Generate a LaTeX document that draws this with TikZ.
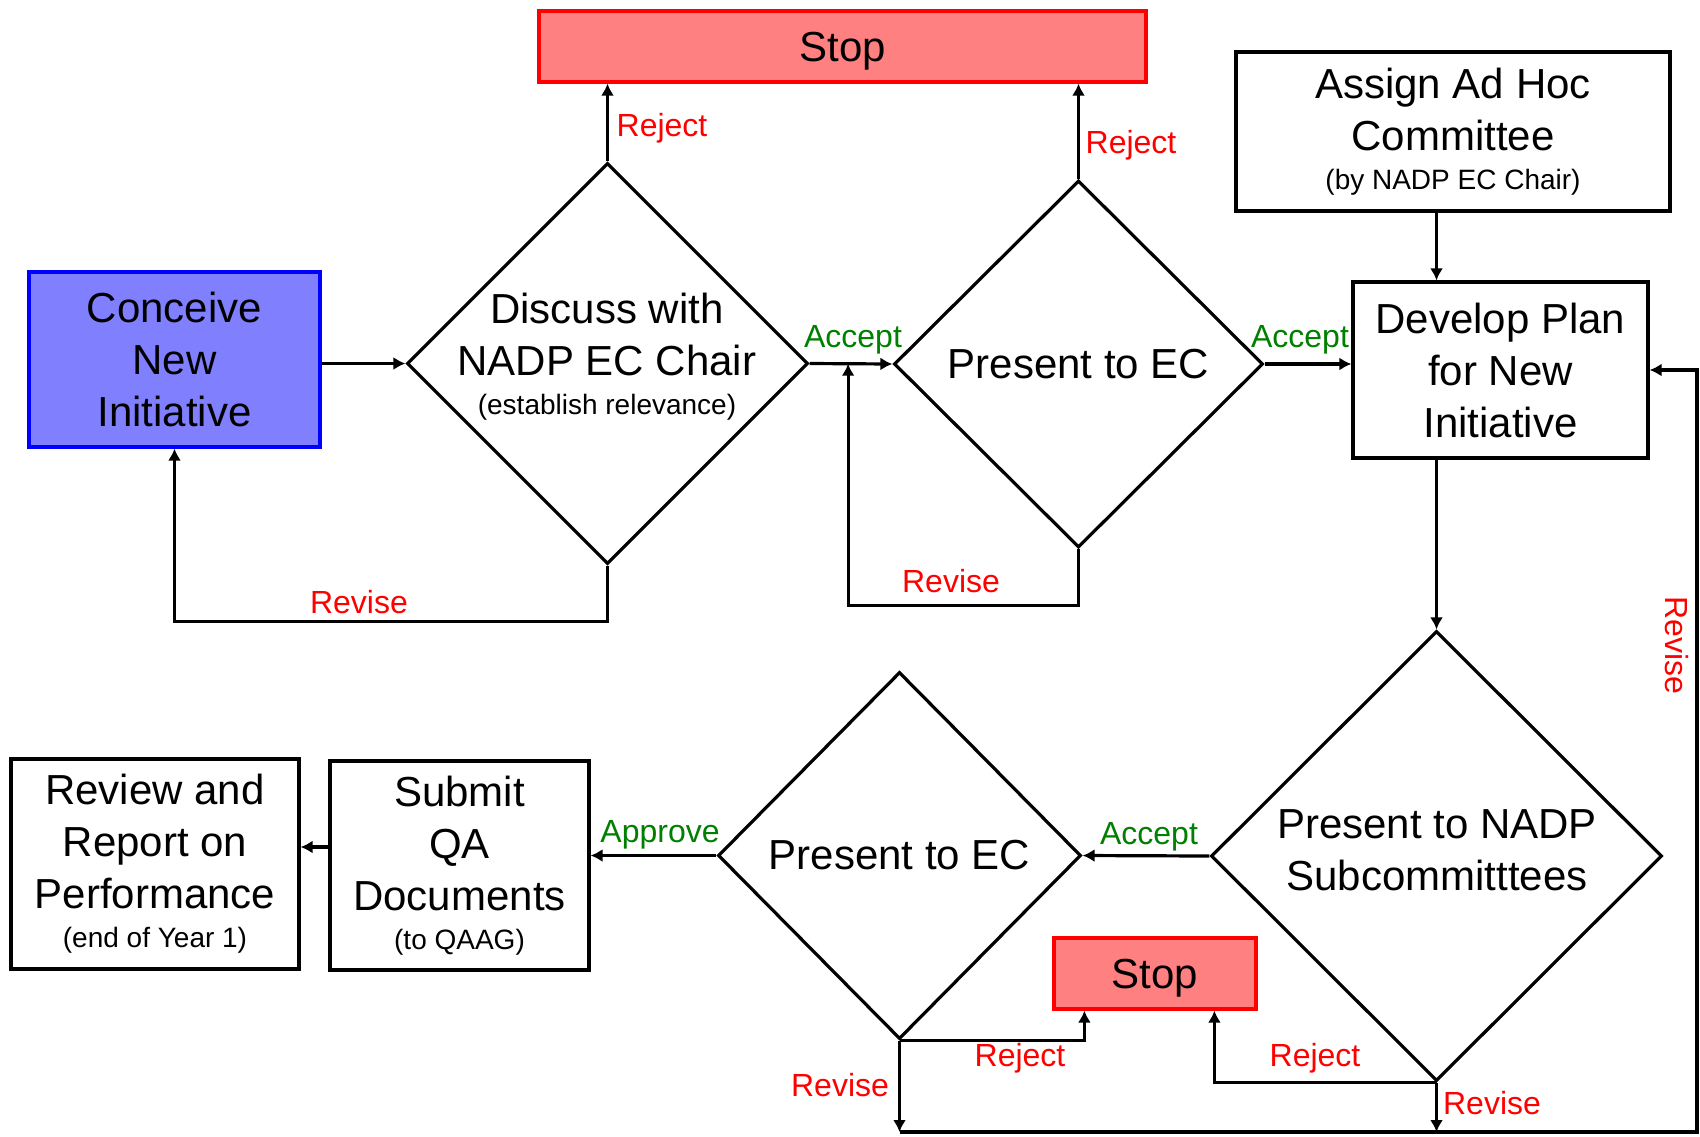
\documentclass[tikz,border=0pt]{standalone}
\usepackage{fontspec}
\setmainfont{Liberation Sans}
\usetikzlibrary{shapes.geometric,arrows.meta,calc}
\definecolor{stopred}{RGB}{255,128,128}
\definecolor{startblue}{RGB}{128,128,255}
\definecolor{okgreen}{RGB}{0,128,0}
\newcommand{\smalltxt}[1]{{\fontsize{14}{17}\selectfont #1}}

\begin{document}
\begin{tikzpicture}[x=0.5pt,y=-0.5pt,>={Latex[length=6pt,width=6.5pt]},line width=1.6pt,
  box/.style={draw,rectangle,align=center,inner sep=0pt,font=\fontsize{21}{26}\selectfont},
  stopbox/.style={box,draw=red,fill=stopred,text depth=0pt},
  dec/.style={draw,diamond,inner sep=0pt},
  big/.style={align=center,font=\fontsize{21}{26}\selectfont},
  lab/.style={font=\fontsize{16}{19}\selectfont,inner sep=1pt}]
\useasboundingbox (0,0) rectangle (1700,1136);

\node[stopbox,minimum width=303.5pt,minimum height=35.5pt] (stop1) at (842.5,46.5) {Stop};
\node[box,minimum width=217pt,minimum height=79.5pt] (adhoc) at (1453,131.5) {Assign Ad Hoc\\Committee\\[-6.5pt]\smalltxt{(by NADP EC Chair)}};
\node[box,draw=blue,fill=startblue,minimum width=145.5pt,minimum height=87.5pt] (conceive) at (174.5,359.5) {Conceive\\New\\Initiative};
\node[dec,minimum width=200.5pt,minimum height=200.5pt] (discuss) at (607.5,363.5) {};
\node[big] (discusstxt) at (607,357) {Discuss with\\NADP EC Chair\\[-6.5pt]\smalltxt{(establish relevance)}};
\node[dec,minimum width=184.5pt,minimum height=183.5pt] (ec1) at (1078.5,364) {};
\node[big] (ec1txt) at (ec1) {Present to EC};
\node[box,minimum width=147.5pt,minimum height=88pt] (develop) at (1500.5,370) {Develop Plan\\for New\\Initiative};
\node[dec,minimum width=225.5pt,minimum height=225pt] (subcom) at (1436.5,856) {};
\node[big] (subcomtxt) at (1437,850) {Present to NADP\\Subcommitttees};
\node[dec,minimum width=181.5pt,minimum height=183.5pt] (ec2) at (899.5,855.5) {};
\node[big] (ec2txt) at (ec2) {Present to EC};
\node[box,minimum width=129.5pt,minimum height=104.5pt] (submit) at (459.5,865.5) {Submit\\QA\\Documents\\[-6.5pt]\smalltxt{(to QAAG)}};
\node[box,minimum width=144pt,minimum height=105pt] (review) at (155,864) {Review and\\Report on\\Performance\\[-6.5pt]\smalltxt{(end of Year 1)}};
\node[stopbox,minimum width=101pt,minimum height=35.5pt] (stop2) at (1155,973.5) {Stop};

\coordinate (join1) at ($(discuss.east)!0.465!(ec1.west)$);
\coordinate (corner) at (1697,1132);

\draw[->] (conceive.east |- discuss.west) -- (discuss.west);
\draw[->] (discuss.east) -- (ec1.west);
\draw[->] (ec1.east) -- (ec1.east -| develop.west);
\draw[->] (discuss.north) -- (discuss.north |- stop1.south);
\draw[->] (ec1.north) -- (ec1.north |- stop1.south);
\draw[->] (discuss.south) -- ++(0,56) -| (conceive.south);
\draw[->] (ec1.south) -- ++(0,56) -| (join1);
\draw[->] (adhoc.south -| subcom.north) -- (develop.north -| subcom.north);
\draw[->] (develop.south -| subcom.north) -- (subcom.north);
\draw[->] (subcom.west) -- (ec2.east);
\draw[->] (ec2.west) -- (ec2.west -| submit.east);
\draw[->] (submit.west |- 0,847) -- (review.east |- 0,847);
\draw[->] (ec2.south) -| ($(stop2.south west)+(32,0)$);
\draw[->] (subcom.south) -| ($(stop2.south west)+(162,0)$);
\draw[->] (ec2.south) -- (ec2.south |- corner);
\draw[->] (subcom.south) -- (subcom.south |- corner);
\draw[->] (ec2.south |- corner) -- (corner) |- (develop.east);

\node[lab,text=red] (rej1) at (662,128) {Reject};
\node[lab,text=red] (rej2) at (1131,145) {Reject};
\node[lab,text=okgreen] (acc1) at (853,340) {Accept};
\node[lab,text=okgreen] (acc2) at (1300,340) {Accept};
\node[lab,text=red] (rev1) at (359,602) {Revise};
\node[lab,text=red] (rev2) at (951,581) {Revise};
\node[lab,text=red,rotate=-90] (rev3) at (1677,645) {Revise};
\node[lab,text=okgreen] (acc3) at (1149,837) {Accept};
\node[lab,text=okgreen] (appr) at (660,835) {Approve};
\node[lab,text=red] (rej3) at (1020,1058) {Reject};
\node[lab,text=red] (rej4) at (1315,1058) {Reject};
\node[lab,text=red] (rev4) at (840,1085) {Revise};
\node[lab,text=red] (rev5) at (1492,1103) {Revise};
\end{tikzpicture}
\end{document}
